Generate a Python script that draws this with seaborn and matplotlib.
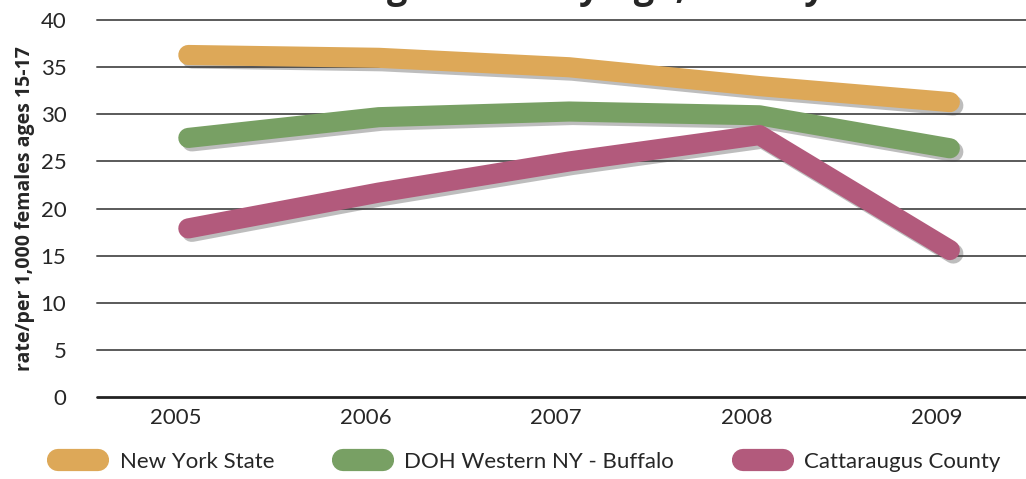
import pandas as pd
import matplotlib.pyplot as plt
import matplotlib.patheffects as pe
import matplotlib.transforms as mtransforms
from matplotlib.lines import Line2D
import seaborn as sns

years = [2005, 2006, 2007, 2008, 2009]
nys = [36.3, 36.0, 35.0, 33.0, 31.3]
wny = [27.5, 29.7, 30.3, 29.9, 26.4]
catt = [17.9, 21.7, 25.0, 27.8, 15.6]
series = ['New York State', 'DOH Western NY - Buffalo', 'Cattaraugus County']
colors = ['#DDA858', '#78A064', '#B25A7C']

df = pd.DataFrame({
    'year': years * 3,
    'rate': nys + wny + catt,
    'area': [s for s in series for _ in years],
})

sns.set_style('white')
plt.rcParams['font.family'] = ['Lato', 'DejaVu Sans']

fig = plt.figure(figsize=(10.26, 4.79), dpi=100)
ax = fig.add_axes([0.0945, 0.171, 0.9055, 0.787])

for y in range(0, 45, 5):
    ax.axhline(y, color='#222222' if y == 0 else '#5a5a5a',
               lw=2.0 if y == 0 else 1.4, zorder=1, clip_on=False)

sns.lineplot(data=df, x='year', y='rate', hue='area', palette=colors,
             hue_order=series, linewidth=14.5, legend=False, ax=ax, zorder=3)
for line in ax.get_lines()[-3:]:
    line.set_solid_capstyle('round')
    line.set_solid_joinstyle('round')
    line.set_path_effects([pe.SimpleLineShadow(offset=(2.5, -2.5), shadow_color='#444444', alpha=0.35),
                           pe.Normal()])

ax.set_xlim(2004.52, 2009.4)
ax.set_ylim(0, 40)
ax.set_xticks(years)
ax.set_yticks(range(0, 45, 5))
ax.tick_params(axis='both', length=0, labelsize=16, pad=8)
ax.tick_params(axis='y', pad=22)
# the year labels sit a little left of the line vertices in the original
shift = mtransforms.ScaledTranslation(-0.13, 0, fig.dpi_scale_trans)
for lbl in ax.get_xticklabels():
    lbl.set_transform(lbl.get_transform() + shift)
for s in ax.spines.values():
    s.set_visible(False)
ax.set_xlabel('')
ax.set_ylabel('rate/per 1,000 females ages 15-17', fontsize=14, fontweight='bold',
              family=['Open Sans', 'DejaVu Sans'], labelpad=4)

handles = [Line2D([0], [0], color=c, lw=16, solid_capstyle='round') for c in colors]
fig.legend(handles, series, loc='center left', bbox_to_anchor=(0.057, 0.036), ncol=3,
           frameon=False, fontsize=16, handlelength=1.8, columnspacing=3.1,
           handletextpad=0.95, borderpad=0, borderaxespad=0)

fig.text(0.273, 1.004, 'Teenage Births by Age, County', fontsize=26, fontweight='bold',
         family=['Open Sans', 'DejaVu Sans'], va='baseline', ha='left')

fig.savefig('out.png', dpi=100)
